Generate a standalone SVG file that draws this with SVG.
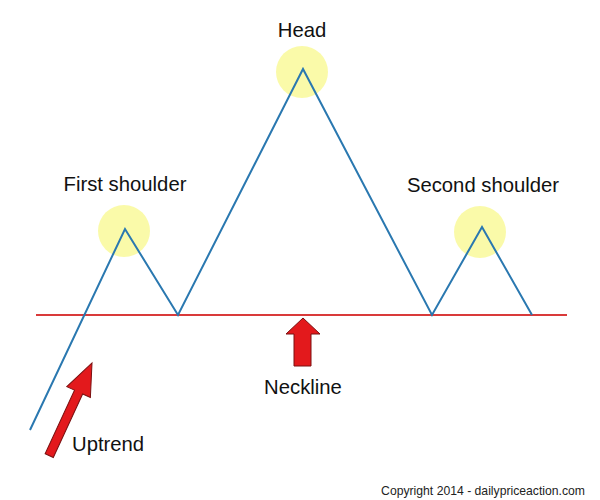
<svg xmlns="http://www.w3.org/2000/svg" width="600" height="500" viewBox="0 0 600 500">
<style>
.glow{fill:#f9f99a;opacity:0.85}
.lbl{font-family:"Liberation Sans",Arial,sans-serif;font-size:20.3px;fill:#111}
.arrow{fill:#e3191c;stroke:#7a1010;stroke-width:1}
.price{fill:none;stroke:#2a78b0;stroke-width:2;stroke-linejoin:miter}
.neck{stroke:#d93a3a;stroke-width:2}
</style>
<rect width="600" height="500" fill="#ffffff"/>
<g id="highlights">
<circle class="glow" cx="124" cy="231" r="26"/>
<circle class="glow" cx="302" cy="72" r="26"/>
<circle class="glow" cx="480" cy="232" r="26"/>
</g>
<g id="connectors">
<line id="neckline-line" class="neck" x1="36" y1="315" x2="567" y2="315"/>
<polyline id="price-line" class="price" points="30,430 125,229 178,315 303,69 432,315 482,227 532,315"/>
</g>
<g id="head"><text class="lbl" x="302" y="37" text-anchor="middle">Head</text></g>
<g id="first-shoulder"><text class="lbl" x="125" y="191" text-anchor="middle">First shoulder</text></g>
<g id="second-shoulder"><text class="lbl" x="483" y="192" text-anchor="middle">Second shoulder</text></g>
<g id="neckline">
<polygon class="arrow" points="303,318 320,334 311,334 311,366 294,366 294,334 286,334"/>
<text class="lbl" x="303" y="394" text-anchor="middle">Neckline</text>
</g>
<g id="uptrend">
<polygon class="arrow" transform="translate(92,363) rotate(24.8)" points="0,0 13,32 4.5,32 4.5,102 -4.5,102 -4.5,32 -13,32"/>
<text class="lbl" x="72" y="451">Uptrend</text>
</g>
<g id="copyright"><text x="585" y="495" text-anchor="end" font-family="'Liberation Sans',Arial,sans-serif" font-size="12.2" fill="#222">Copyright 2014 - dailypriceaction.com</text></g>
</svg>
